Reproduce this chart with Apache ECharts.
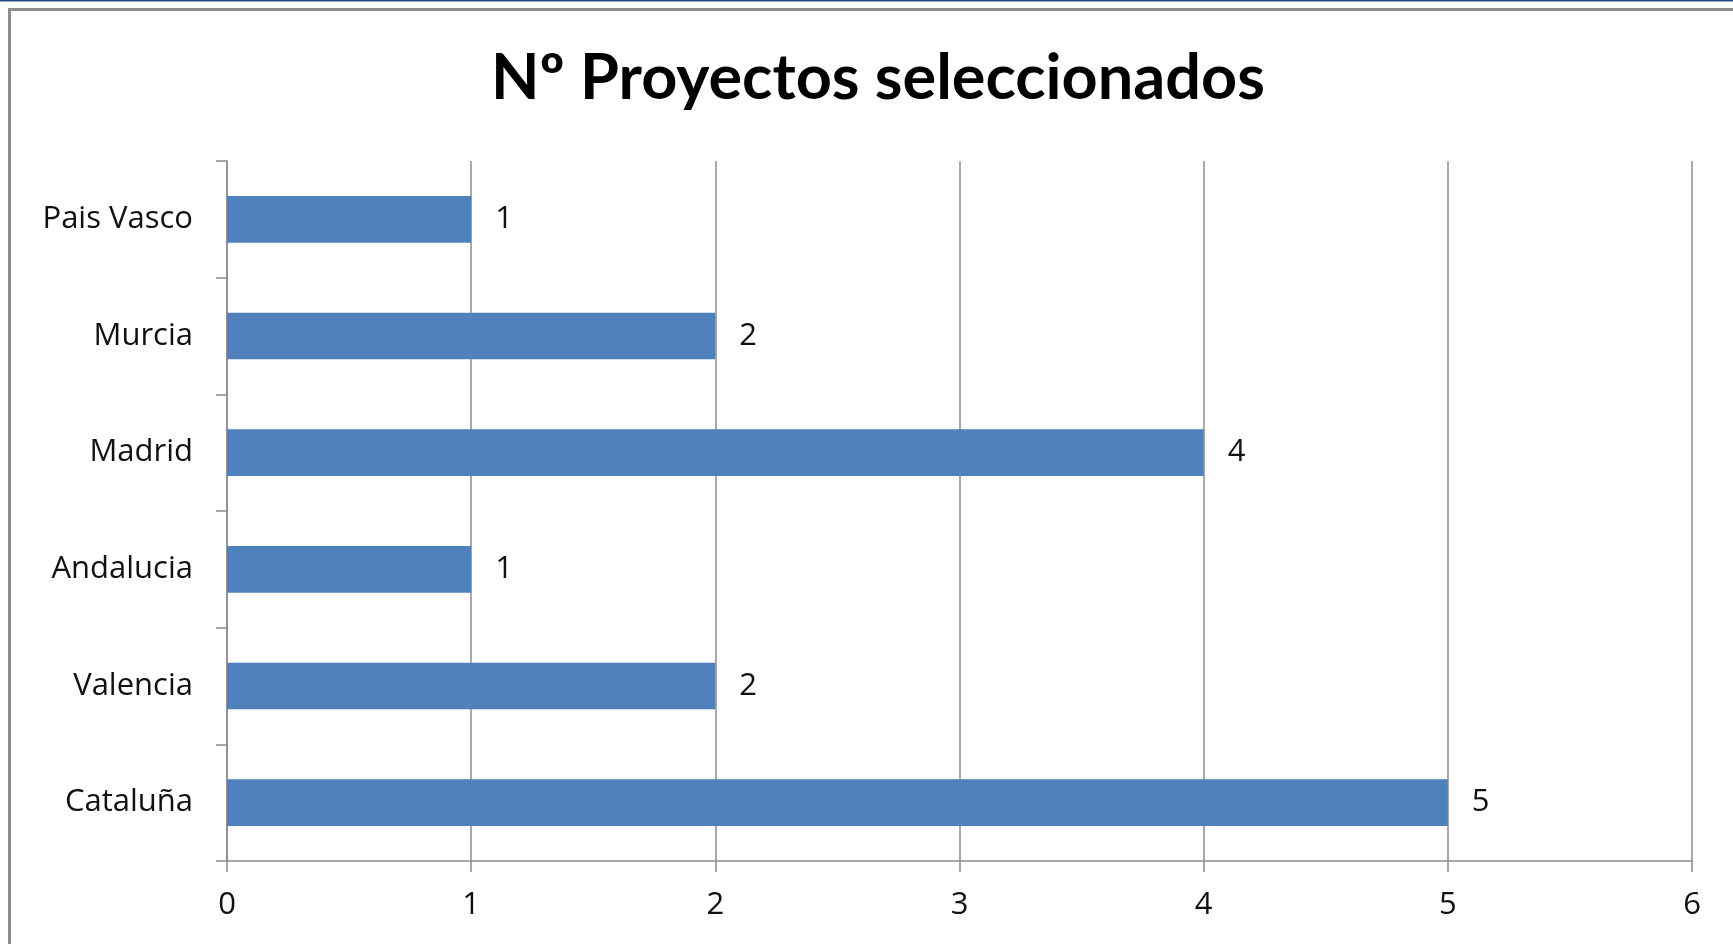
<!DOCTYPE html>
<html>
<head>
<meta charset="utf-8">
<script src="https://cdn.jsdelivr.net/npm/echarts@6/dist/echarts.min.js"></script>
<style>
  html, body { margin: 0; padding: 0; background: #fff; }
  #main { width: 1733px; height: 944px; }
</style>
</head>
<body>
<div id="main"></div>
<script>
var regiones = ["Cataluña", "Valencia", "Andalucia", "Madrid", "Murcia", "Pais Vasco"];
var proyectos = [5, 2, 1, 4, 2, 1];
var ejeX = [0, 1, 2, 3, 4, 5, 6];

var myChart = echarts.init(document.getElementById("main"));
var option = {
  animation: false,
  textStyle: { fontFamily: "Open Sans" },
  title: {
    text: "Nº Proyectos seleccionados",
    left: 486,
    top: 42,
    textStyle: { fontFamily: "Lato", fontWeight: "bold", fontSize: 63, color: "#000" }
  },
  graphic: [
    { type: "line", shape: { x1: 0, y1: 0.5, x2: 1733, y2: 0.5 }, style: { stroke: "#1f4e79", lineWidth: 2 } },
    { type: "rect", shape: { x: 9.5, y: 9.5, width: 1800, height: 1000 }, style: { fill: null, stroke: "#8c8c8c", lineWidth: 3 } }
  ],
  grid: { left: 227, right: 41, top: 161, bottom: 83 },
  xAxis: {
    type: "value",
    min: ejeX[0],
    max: ejeX[ejeX.length - 1],
    interval: 1,
    axisLine: { show: true, lineStyle: { color: "#8c8c8c", width: 1.5 } },
    axisTick: { show: true, length: 11, lineStyle: { color: "#8c8c8c", width: 1.5 } },
    splitLine: { show: true, lineStyle: { color: "#8c8c8c", width: 1.5 } },
    axisLabel: { margin: 29, fontSize: 31, color: "#111", fontFamily: "Open Sans" }
  },
  yAxis: {
    type: "category",
    data: regiones,
    axisLine: { show: true, lineStyle: { color: "#8c8c8c", width: 1.5 } },
    axisTick: { show: true, length: 11, alignWithLabel: false, lineStyle: { color: "#8c8c8c", width: 1.5 } },
    axisLabel: { margin: 34, fontSize: 31, color: "#111", fontFamily: "Open Sans" }
  },
  series: [
    {
      type: "bar",
      data: proyectos,
      barCategoryGap: "60%",
      itemStyle: { color: "#4f81bd" },
      label: { show: true, position: "right", distance: 24, fontSize: 31, color: "#111", fontFamily: "Open Sans" }
    }
  ]
};
option && myChart.setOption(option);
</script>
</body>
</html>
